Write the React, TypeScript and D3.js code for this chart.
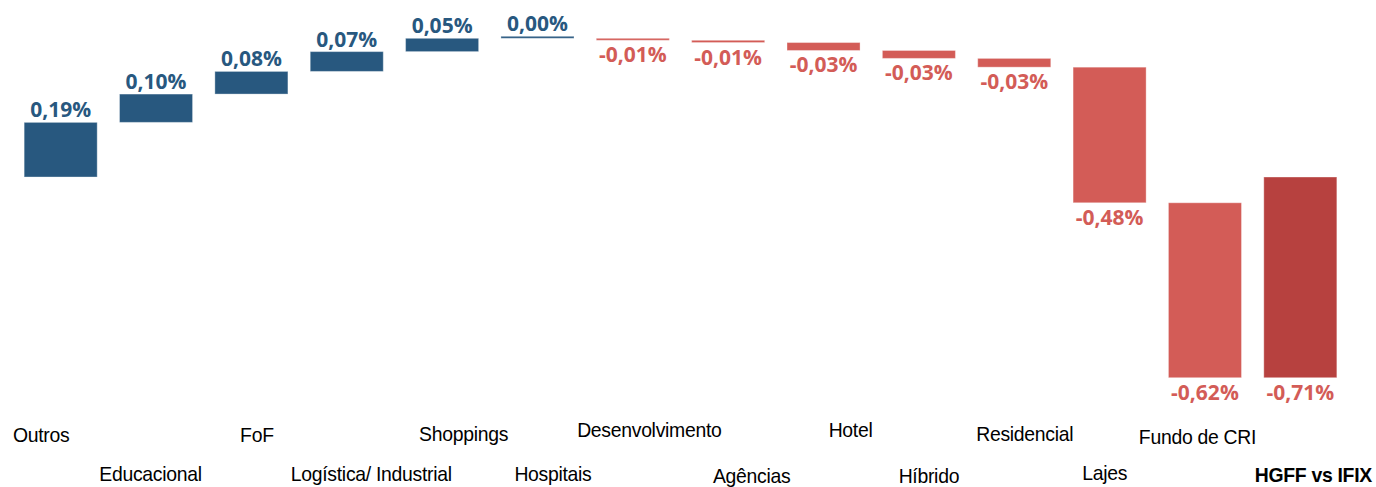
import React from "react";
import * as d3 from "d3";

const categories = [
  "Outros", "Educacional", "FoF", "Logística/ Industrial", "Shoppings", "Hospitais",
  "Desenvolvimento", "Agências", "Hotel", "Híbrido", "Residencial", "Lajes", "Fundo de CRI",
];
const totalLabel = "HGFF vs IFIX";
const contributions = [0.193, 0.1, 0.08, 0.07, 0.047, 0.0, -0.007, -0.008, -0.028, -0.028, -0.031, -0.479, -0.618];

// layout nudges for category labels (dx from band centre, baseline y)
const labelDx = [-19.5, -5.5, 5.5, 24.5, 21.5, 15.5, 16.5, 23.5, 27, 10, 10.5, -5, -7.5, 13];
const labelY = [442, 481, 442, 481, 441, 481, 437, 483, 437, 483, 441, 480, 444, 482];

const W = 1376, H = 487;
const BLUE = "#28587F";
const RED = "#D35C57";
const DARK = "#B7413F";

export default function App() {
  const names = [...categories, totalLabel];
  let cum = 0;
  const bars = contributions.map((v, i) => {
    const start = cum;
    cum += v;
    return { name: categories[i], v, start, end: cum, total: false };
  });
  bars.push({ name: totalLabel, v: cum, start: 0, end: cum, total: true });

  const x = d3.scaleBand<string>().domain(names).range([13, 1348]).paddingInner(0.234).paddingOuter(0.117);
  const y = d3.scaleLinear().domain([-0.71, 0.49]).range([378, 38.3]);
  const fmt = (v: number) => d3.format(".2f")(v).replace(".", ",").replace("−", "-") + "%";

  return (
    <svg width={W} height={H} style={{ position: "absolute", left: 0, top: 0, background: "#fff" }}>
      {bars.map((b) => {
        const x0 = x(b.name)!;
        const bw = x.bandwidth();
        const top = Math.min(y(b.start), y(b.end));
        const bot = Math.max(y(b.start), y(b.end));
        const h = Math.max(2, bot - top);
        const pos = b.v >= 0;
        const fill = b.total ? DARK : pos ? BLUE : RED;
        const cx = x0 + bw / 2;
        const ry = pos ? top - (h - (bot - top)) : top;
        return (
          <g key={b.name}>
            <rect x={x0} y={ry} width={bw} height={h} fill={fill}
              stroke="#ffffff" strokeOpacity={0.35} strokeWidth={1} />
            <text x={cx} y={pos ? ry - 5 : ry + h + 22}
              textAnchor="middle" fontFamily="'Open Sans', sans-serif" fontWeight={700} fontSize={21}
              fill={pos ? BLUE : RED}>{fmt(b.v)}</text>
          </g>
        );
      })}
      {names.map((n, i) => {
        const cx = x(n)! + x.bandwidth() / 2 + labelDx[i];
        return (
          <text key={n} transform={`translate(${cx},${labelY[i]}) scale(0.97,1)`} textAnchor="middle"
            fontFamily="'Liberation Sans', Arial, sans-serif" fontSize={20}
            fontWeight={n === totalLabel ? 700 : 400} letterSpacing={-0.3} fill="#000">{n}</text>
        );
      })}
    </svg>
  );
}
